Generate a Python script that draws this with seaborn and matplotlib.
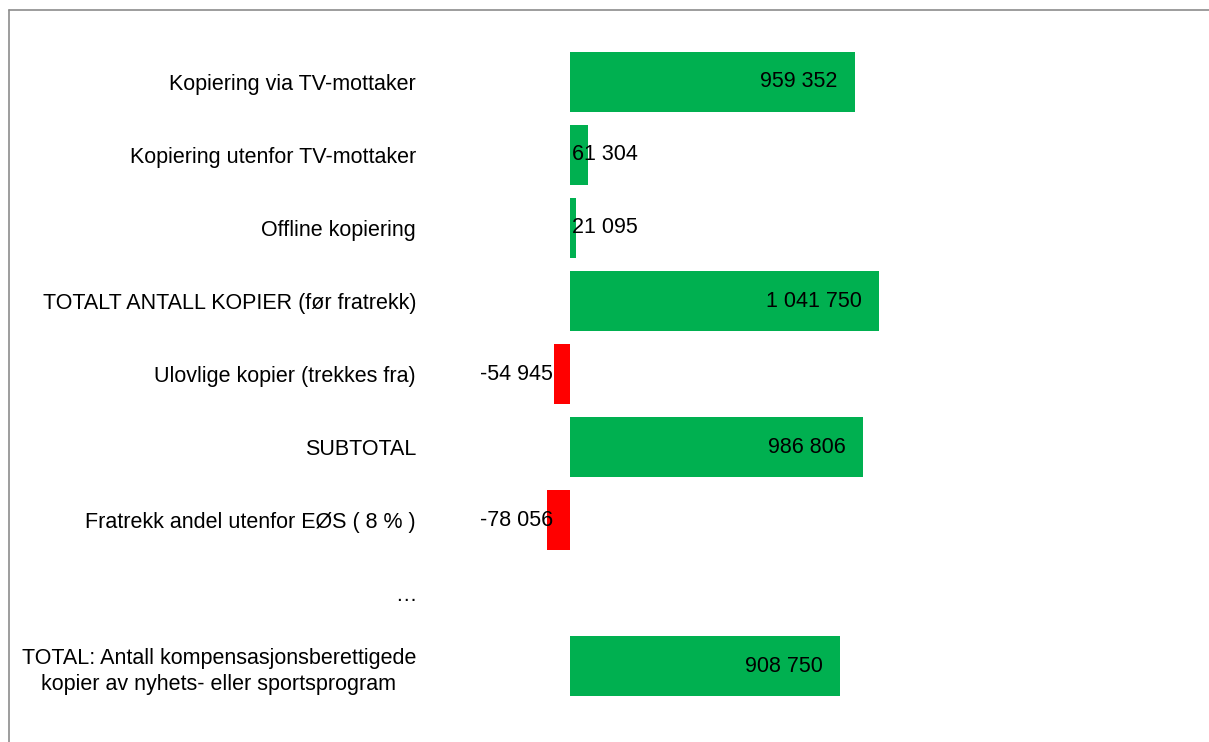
import matplotlib
matplotlib.use("Agg")
import matplotlib.pyplot as plt
from matplotlib.lines import Line2D
import seaborn as sns
import pandas as pd

categories = [
    "Kopiering via TV-mottaker",
    "Kopiering utenfor TV-mottaker",
    "Offline kopiering",
    "TOTALT ANTALL KOPIER (før fratrekk)",
    "Ulovlige kopier (trekkes fra)",
    "SUBTOTAL",
    "Fratrekk andel utenfor EØS ( 8 % )",
    "…",
    "TOTAL: Antall kompensasjonsberettigede\nkopier av nyhets- eller sportsprogram",
]
values = [959352, 61304, 21095, 1041750, -54945, 986806, -78056, 0, 908750]
labels = ["959 352", "61 304", "21 095", "1 041 750", "-54 945", "986 806", "-78 056", "", "908 750"]

GREEN = "#00B050"
RED = "#FF0000"
colors = [RED if v < 0 else GREEN for v in values]
FS = 15.5

sns.set_theme(style="white")
plt.rcParams["font.family"] = ["Liberation Sans", "DejaVu Sans"]

df = pd.DataFrame({"kategori": categories, "verdi": values})

fig = plt.figure(figsize=(12.09, 7.42), dpi=100)
ax = fig.add_axes([430 / 1209, 0.0532, 770 / 1209, 0.8855])

sns.barplot(
    data=df, x="verdi", y="kategori", hue="kategori",
    palette=colors, legend=False, orient="h", width=0.82,
    linewidth=0, saturation=1, ax=ax,
)

# skala: 0 ved x=570 px
ax.set_xlim(-471000, 2121000)
ax.set_ylim(8.5, -0.5)
ax.set_xlabel("")
ax.set_ylabel("")
ax.set_xticks([])
sns.despine(ax=ax, left=True, bottom=True)
ax.tick_params(axis="y", length=0, pad=10, labelsize=FS, labelcolor="black")
for t in ax.get_yticklabels():
    t.set_multialignment("center")
    t.set_linespacing(1.35)

for i, (v, lab) in enumerate(zip(values, labels)):
    if not lab:
        continue
    if abs(v) > 200000:
        ax.annotate(lab, (v, i), xytext=(-12.5, 0), textcoords="offset points",
                    ha="right", va="center", fontsize=FS, color="black")
    elif v > 0:
        ax.annotate(lab, (0, i), xytext=(1.5, 0), textcoords="offset points",
                    ha="left", va="center", fontsize=FS, color="black")
    else:
        ax.annotate(lab, (0, i), xytext=(-12, 0), textcoords="offset points",
                    ha="right", va="center", fontsize=FS, color="black")

# ramme (topp og venstre)
fig.add_artist(Line2D([9 / 1209, 9 / 1209], [0, 1 - 10 / 742], transform=fig.transFigure,
                      color="#8c8c8c", lw=1.2))
fig.add_artist(Line2D([9 / 1209, 1], [1 - 10 / 742, 1 - 10 / 742], transform=fig.transFigure,
                      color="#8c8c8c", lw=1.2))

fig.savefig("out.png", dpi=100, facecolor="white")
